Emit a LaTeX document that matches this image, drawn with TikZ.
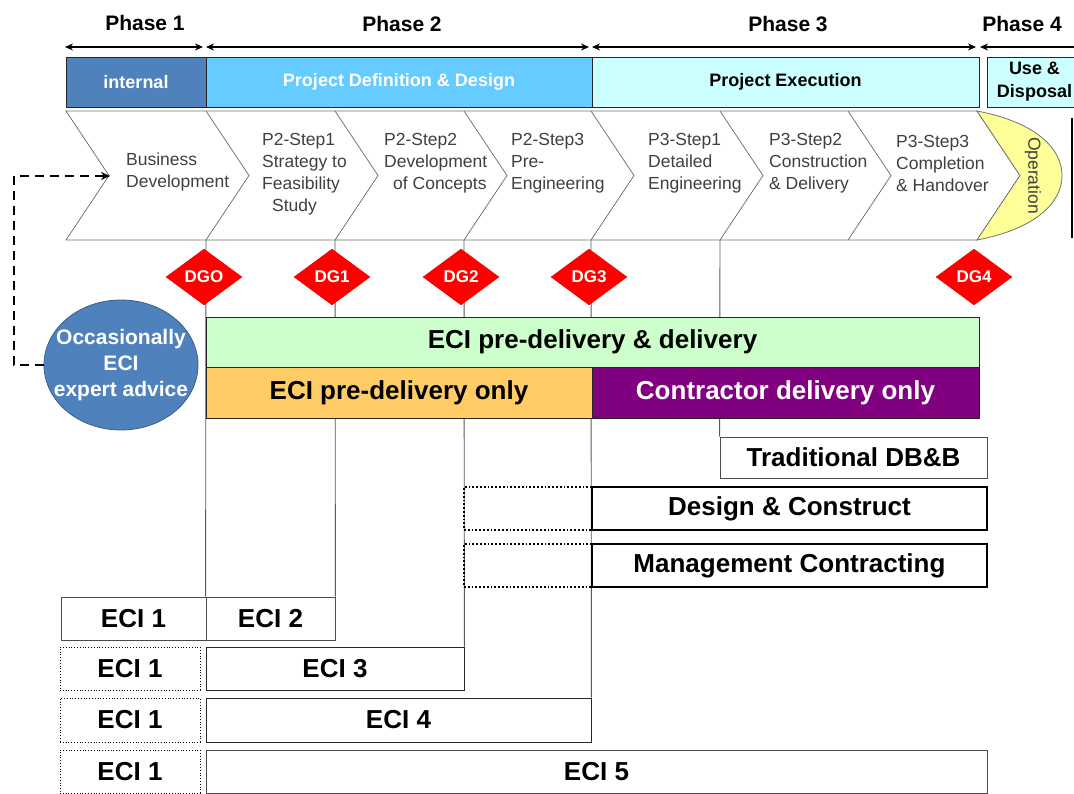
\documentclass[tikz,border=0pt]{standalone}
\usepackage{fontspec}
\setmainfont{Liberation Sans}
\usetikzlibrary{shapes.geometric,arrows.meta}
\definecolor{intblue}{HTML}{4F81BD}
\definecolor{defblue}{HTML}{66CCFF}
\definecolor{execcyan}{HTML}{CCFFFF}
\definecolor{opyellow}{HTML}{FFFF99}
\definecolor{bandgreen}{HTML}{CCFFCC}
\definecolor{bandorange}{HTML}{FFCC66}
\definecolor{bandpurple}{HTML}{800080}
\definecolor{ovalrim}{HTML}{3A5F8A}
\begin{document}
\begin{tikzpicture}[x=1pt,y=-1pt,
  phaselbl/.style={font=\fontsize{21}{24}\selectfont\bfseries, inner sep=0pt},
  span/.style={line width=2pt, {Stealth[length=8pt,width=7pt]}-{Stealth[length=8pt,width=7pt]}},
  stage/.style={draw=black!85, line width=0.8pt, inner sep=0pt, minimum height=50pt,
    align=center, font=\fontsize{18}{23}\selectfont\bfseries},
  steptxt/.style={anchor=west, align=left, text=black!75, inner sep=0pt,
    font=\fontsize{17.5}{22}\selectfont},
  chev/.style={draw=black!55, line width=0.8pt},
  gate/.style={diamond, fill=red, draw=red!85!black, line width=0.3pt,
    minimum width=76pt, minimum height=56pt, inner sep=0pt, text=white,
    font=\fontsize{17}{20}\selectfont\bfseries},
  drop/.style={draw=black!65, line width=0.9pt},
  band/.style={draw=black!85, line width=0.8pt, inner sep=0pt, minimum height=50pt,
    font=\fontsize{26}{30}\selectfont\bfseries},
  route/.style={draw=black!70, line width=0.8pt, inner sep=0pt,
    font=\fontsize{26}{30}\selectfont\bfseries},
  routebold/.style={route, draw=black, line width=2.6pt},
  routedot/.style={draw=black, line width=1.8pt, dotted},
  eci/.style={draw=black!70, line width=0.8pt, inner sep=0pt, minimum height=43pt,
    font=\fontsize{26}{30}\selectfont\bfseries},
  ecidot/.style={eci, draw=black, dotted, line width=1pt},
  advice/.style={line width=2pt, dash pattern=on 9pt off 6pt,
    -{Stealth[length=9pt,width=8pt]}}
]
\useasboundingbox (0,0) rectangle (1074,794);

% ---------- phase headings and spans ----------
\node[phaselbl] (ph1) at (145,23) {Phase 1};
\node[phaselbl] (ph2) at (402,24) {Phase 2};
\node[phaselbl] (ph3) at (788,24) {Phase 3};
\node[phaselbl] (ph4) at (1022,24) {Phase 4};
\coordinate (s1a) at (65,47);  \coordinate (s1b) at (203,47);
\coordinate (s2a) at (206,47); \coordinate (s2b) at (589,47);
\coordinate (s3a) at (592,47); \coordinate (s3b) at (976,47);
\coordinate (s4a) at (980,47); \coordinate (s4b) at (1100,47);
\draw[span] (s1a) -- (s1b);
\draw[span] (s2a) -- (s2b);
\draw[span] (s3a) -- (s3b);
\draw[span] (s4a) -- (s4b);

% ---------- stage bar ----------
\node[stage, fill=intblue, text=white, minimum width=140pt] (internal) at (136,82) {internal};
\node[stage, fill=defblue, text=white, minimum width=386pt] (pdd) at (399,82) {Project Definition \& Design};
\node[stage, fill=execcyan, minimum width=387pt] (pex) at (785.5,82) {Project Execution};
\node[stage, fill=execcyan, minimum width=95pt] (use) at (1034.5,82) {Use \&\\Disposal};

% ---------- drop lines from the step boundaries ----------
\coordinate (c1) at (206,240);
\coordinate (c2) at (335,240);
\coordinate (c3) at (464,240);
\coordinate (c4) at (591,240);
\coordinate (c5) at (720,240);

% ---------- step chevrons ----------
\draw[chev, fill=white] (66,111) -- (977,111) -- (1020,175.5) -- (977,240) -- (66,240) -- (109,175.5) -- cycle;
\foreach \bx in {206,335,464,591,720,848}
  \draw[chev] (\bx,111) -- (\bx+43,175.5) -- (\bx,240);
\draw[chev, fill=opyellow] (977,111) .. controls (1035,122) and (1062,148) .. (1062,175.5)
  .. controls (1062,203) and (1035,229) .. (977,240) -- (1020,175.5) -- cycle;
\node[rotate=-90, text=black!75, inner sep=0pt, font=\fontsize{17.5}{22}\selectfont] (oper) at (1033,175.5) {Operation};
\draw[line width=2pt] (1072,118) -- (1072,238);

\coordinate (bdin) at (110,176);
\node[steptxt] (bd) at (126,172) {Business\\Development};
\node[steptxt] (p21) at (262,174) {P2-Step1\\Strategy to\\Feasibility\\\hspace*{10pt}Study};
\node[steptxt] (p22) at (384,163) {P2-Step2\\Development\\\hspace*{9pt}of Concepts};
\node[steptxt] (p23) at (511,163) {P2-Step3\\Pre-\\Engineering};
\node[steptxt] (p31) at (648,163) {P3-Step1\\Detailed\\Engineering};
\node[steptxt] (p32) at (769,163) {P3-Step2\\Construction\\\& Delivery};
\node[steptxt] (p33) at (896,163) {P3-Step3\\Completion\\\& Handover};

% ---------- routes and ECI boxes (nodes first, lines reference them) ----------
\node[route, minimum width=267pt, minimum height=41pt] (tdbb) at (853.5,457.5) {Traditional DB\&B};

\node[eci, minimum width=145pt] (e11) at (133.5,618.5) {ECI 1};
\node[eci, minimum width=129pt] (e2) at (270.5,618.5) {ECI 2};
\node[ecidot, minimum width=140pt] (e12) at (130,668.5) {ECI 1};
\node[eci, draw=black!85, minimum width=258pt] (e3) at (335,668.5) {ECI 3};
\node[ecidot, minimum width=140pt, minimum height=44pt] (e13) at (130,720) {ECI 1};
\node[eci, draw=black!85, minimum width=385pt, minimum height=44pt] (e4) at (398.5,720) {ECI 4};
\node[ecidot, minimum width=140pt] (e14) at (130,771.5) {ECI 1};
\node[eci, minimum width=781pt] (e5) at (596.5,771.5) {ECI 5};

\draw[drop] (c1) -- (e2.north west);
\draw[drop] (c2) -- (e2.north east);
\draw[drop] (c3) -- (e3.north east);
\draw[drop] (c4) -- (e4.north east);
\draw[drop] (c5) -- (tdbb.north west);

% ---------- decision gates ----------
\node[gate] (dg0) at (204,277) {DGO};
\node[gate] (dg1) at (332,277) {DG1};
\node[gate] (dg2) at (461,277) {DG2};
\node[gate] (dg3) at (589,277) {DG3};
\node[gate] (dg4) at (974,277) {DG4};

% ---------- ECI bands ----------
\node[band, fill=bandgreen, minimum width=773pt] (pdd2) at (592.5,342) {ECI pre-delivery \& delivery};
\node[band, fill=bandorange, minimum width=386pt, minimum height=51pt] (pdo) at (399,392.5) {ECI pre-delivery only};
\node[band, fill=bandpurple, text=white, minimum width=387pt, minimum height=51pt] (cdo) at (785.5,392.5) {Contractor delivery only};

% ---------- contract routes ----------
\node[routedot, minimum width=128pt, minimum height=43pt] (dcpre) at (528,508.5) {};
\node[routebold, fill=white, minimum width=395pt, minimum height=43pt] (dc) at (789.5,508.5) {Design \& Construct};
\node[routedot, minimum width=128pt, minimum height=43pt] (mcpre) at (528,565.5) {};
\node[routebold, fill=white, minimum width=395pt, minimum height=43pt] (mc) at (789.5,565.5) {Management Contracting};

% ---------- expert advice ----------
\node[ellipse, fill=intblue, draw=ovalrim, line width=0.8pt, minimum width=154pt, minimum height=130pt, inner sep=0pt] (occ) at (121,365) {};
\node[align=center, text=white, inner sep=0pt, font=\fontsize{21}{26}\selectfont\bfseries] (occtxt) at (occ.center) {Occasionally\\ECI\\expert advice};
\draw[advice] (occ.west) -- ++(-30pt,0pt) |- (bdin);
\end{tikzpicture}
\end{document}
